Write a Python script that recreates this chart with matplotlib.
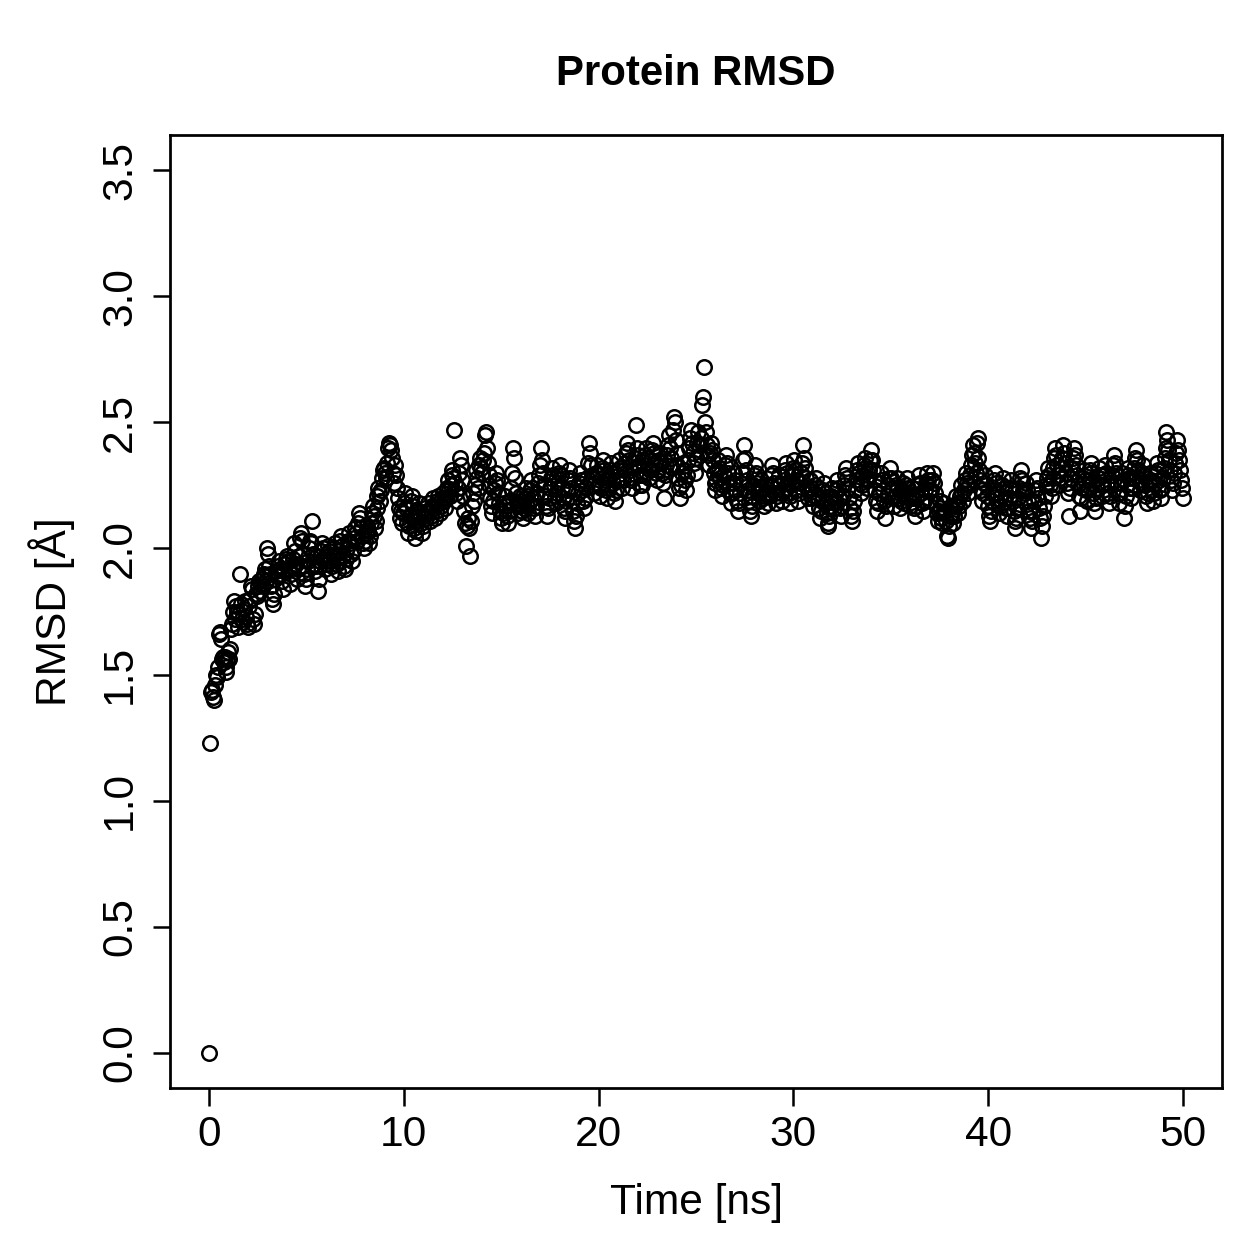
import numpy as np
import matplotlib
matplotlib.use("Agg")
import matplotlib.pyplot as plt

plt.rcParams['font.family'] = ['Liberation Sans', 'DejaVu Sans']

# RMSD per frame, one row per ns (20 frames of 0.05 ns each)
rmsd = [
    0.00, 1.23, 1.43, 1.44, 1.41, 1.40, 1.46, 1.50, 1.49, 1.53, 1.66, 1.67, 1.64, 1.56, 1.57, 1.55, 1.57, 1.53, 1.51, 1.56,
    1.59, 1.56, 1.60, 1.68, 1.70, 1.75, 1.79, 1.72, 1.77, 1.75, 1.69, 1.74, 1.90, 1.78, 1.72, 1.71, 1.76, 1.79, 1.73, 1.70,
    1.69, 1.77, 1.80, 1.85, 1.84, 1.72, 1.70, 1.74, 1.82, 1.81, 1.85, 1.87, 1.83, 1.86, 1.88, 1.85, 1.90, 1.89, 1.92, 1.87,
    2.00, 1.98, 1.93, 1.90, 1.85, 1.80, 1.78, 1.82, 1.88, 1.91, 1.89, 1.93, 1.95, 1.92, 1.90, 1.87, 1.84, 1.91, 1.94, 1.96,
    1.97, 1.95, 1.92, 1.86, 1.90, 1.93, 1.96, 2.02, 1.99, 1.94, 1.88, 1.92, 1.97, 2.04, 2.06, 2.03, 1.98, 1.93, 1.90, 1.85,
    1.88, 1.92, 1.95, 2.00, 2.03, 2.02, 2.11, 1.98, 1.94, 1.91, 1.93, 1.97, 1.83, 1.88, 1.95, 1.99, 2.02, 2.00, 1.96, 1.92,
    1.94, 1.98, 2.01, 1.99, 1.95, 1.90, 1.93, 1.97, 2.00, 2.02, 1.98, 1.94, 1.91, 1.95, 1.99, 2.03, 2.05, 2.01, 1.97, 1.93,
    1.92, 1.96, 2.00, 2.03, 2.06, 2.02, 1.98, 1.95, 1.99, 2.04, 2.08, 2.06, 2.03, 2.10, 2.14, 2.12, 2.08, 2.05, 2.02, 2.00,
    2.03, 2.06, 2.09, 2.07, 2.02, 2.05, 2.10, 2.14, 2.17, 2.13, 2.08, 2.11, 2.16, 2.21, 2.24, 2.22, 2.19, 2.23, 2.28, 2.31,
    2.32, 2.30, 2.28, 2.34, 2.40, 2.42, 2.41, 2.39, 2.36, 2.30, 2.26, 2.33, 2.29, 2.24, 2.20, 2.16, 2.12, 2.15, 2.10, 2.14,
    2.18, 2.22, 2.16, 2.10, 2.06, 2.09, 2.13, 2.19, 2.21, 2.17, 2.12, 2.08, 2.04, 2.07, 2.11, 2.15, 2.18, 2.14, 2.10, 2.06,
    2.09, 2.13, 2.16, 2.12, 2.15, 2.18, 2.14, 2.11, 2.13, 2.17, 2.20, 2.16, 2.12, 2.15, 2.19, 2.21, 2.18, 2.14, 2.17, 2.20,
    2.22, 2.19, 2.16, 2.20, 2.24, 2.27, 2.23, 2.21, 2.25, 2.29, 2.31, 2.28, 2.47, 2.26, 2.22, 2.19, 2.24, 2.30, 2.36, 2.33,
    2.27, 2.21, 2.15, 2.10, 2.01, 2.09, 2.12, 2.08, 1.97, 2.11, 2.17, 2.22, 2.19, 2.25, 2.31, 2.28, 2.24, 2.33, 2.36, 2.32,
    2.30, 2.35, 2.38, 2.45, 2.46, 2.40, 2.34, 2.29, 2.25, 2.20, 2.17, 2.14, 2.19, 2.23, 2.26, 2.30, 2.27, 2.22, 2.18, 2.15,
    2.12, 2.10, 2.14, 2.18, 2.21, 2.17, 2.13, 2.10, 2.15, 2.19, 2.24, 2.30, 2.40, 2.36, 2.28, 2.22, 2.18, 2.14, 2.17, 2.21,
    2.19, 2.15, 2.12, 2.16, 2.20, 2.24, 2.21, 2.17, 2.14, 2.18, 2.23, 2.27, 2.24, 2.20, 2.16, 2.13, 2.17, 2.22, 2.26, 2.29,
    2.33, 2.40, 2.35, 2.30, 2.25, 2.21, 2.17, 2.13, 2.16, 2.20, 2.24, 2.28, 2.32, 2.29, 2.25, 2.21, 2.18, 2.22, 2.26, 2.30,
    2.33, 2.29, 2.24, 2.20, 2.16, 2.12, 2.15, 2.19, 2.23, 2.27, 2.31, 2.28, 2.24, 2.19, 2.15, 2.11, 2.08, 2.13, 2.18, 2.22,
    2.26, 2.30, 2.27, 2.23, 2.19, 2.16, 2.20, 2.24, 2.28, 2.34, 2.42, 2.38, 2.33, 2.29, 2.25, 2.22, 2.26, 2.30, 2.33, 2.29,
    2.25, 2.21, 2.24, 2.28, 2.32, 2.35, 2.31, 2.27, 2.23, 2.20, 2.24, 2.28, 2.31, 2.34, 2.30, 2.26, 2.22, 2.19, 2.23, 2.27,
    2.31, 2.35, 2.32, 2.28, 2.24, 2.27, 2.31, 2.34, 2.38, 2.42, 2.39, 2.35, 2.31, 2.27, 2.24, 2.28, 2.32, 2.36, 2.49, 2.40,
    2.37, 2.33, 2.29, 2.25, 2.21, 2.25, 2.29, 2.33, 2.37, 2.40, 2.36, 2.32, 2.28, 2.31, 2.35, 2.39, 2.42, 2.38, 2.34, 2.30,
    2.27, 2.31, 2.35, 2.38, 2.34, 2.30, 2.26, 2.20, 2.29, 2.33, 2.37, 2.41, 2.45, 2.40, 2.36, 2.32, 2.47, 2.52, 2.50, 2.43,
    2.38, 2.33, 2.28, 2.24, 2.20, 2.25, 2.30, 2.34, 2.31, 2.27, 2.23, 2.29, 2.35, 2.40, 2.44, 2.47, 2.42, 2.38, 2.34, 2.30,
    2.36, 2.42, 2.46, 2.41, 2.37, 2.44, 2.57, 2.60, 2.72, 2.50, 2.46, 2.41, 2.37, 2.33, 2.38, 2.42, 2.39, 2.35, 2.30, 2.26,
    2.23, 2.27, 2.31, 2.35, 2.32, 2.28, 2.24, 2.21, 2.25, 2.29, 2.33, 2.37, 2.34, 2.30, 2.26, 2.22, 2.18, 2.22, 2.26, 2.30,
    2.27, 2.23, 2.19, 2.15, 2.18, 2.22, 2.26, 2.30, 2.35, 2.41, 2.36, 2.31, 2.27, 2.23, 2.19, 2.15, 2.13, 2.17, 2.21, 2.25,
    2.29, 2.33, 2.30, 2.26, 2.22, 2.19, 2.23, 2.27, 2.24, 2.20, 2.17, 2.21, 2.25, 2.22, 2.18, 2.21, 2.25, 2.29, 2.33, 2.30,
    2.26, 2.22, 2.18, 2.21, 2.25, 2.29, 2.26, 2.22, 2.19, 2.23, 2.27, 2.31, 2.34, 2.30, 2.26, 2.22, 2.18, 2.21, 2.25, 2.29,
    2.32, 2.35, 2.31, 2.27, 2.23, 2.19, 2.22, 2.26, 2.30, 2.34, 2.41, 2.36, 2.32, 2.28, 2.24, 2.20, 2.23, 2.27, 2.24, 2.20,
    2.17, 2.21, 2.25, 2.28, 2.24, 2.20, 2.16, 2.12, 2.15, 2.19, 2.23, 2.26, 2.22, 2.18, 2.14, 2.10, 2.09, 2.13, 2.17, 2.21,
    2.24, 2.20, 2.16, 2.19, 2.23, 2.27, 2.24, 2.20, 2.16, 2.13, 2.17, 2.21, 2.25, 2.29, 2.32, 2.28, 2.24, 2.20, 2.16, 2.13,
    2.11, 2.15, 2.19, 2.23, 2.27, 2.31, 2.34, 2.30, 2.26, 2.22, 2.25, 2.29, 2.33, 2.36, 2.32, 2.28, 2.24, 2.27, 2.31, 2.35,
    2.39, 2.35, 2.31, 2.27, 2.23, 2.19, 2.15, 2.18, 2.22, 2.26, 2.30, 2.27, 2.23, 2.19, 2.12, 2.17, 2.21, 2.25, 2.28, 2.32,
    2.28, 2.24, 2.20, 2.17, 2.21, 2.25, 2.28, 2.24, 2.20, 2.16, 2.19, 2.23, 2.26, 2.22, 2.18, 2.21, 2.25, 2.28, 2.24, 2.20,
    2.17, 2.21, 2.24, 2.20, 2.16, 2.13, 2.17, 2.21, 2.25, 2.29, 2.26, 2.22, 2.18, 2.15, 2.19, 2.23, 2.26, 2.30, 2.27, 2.23,
    2.19, 2.23, 2.27, 2.30, 2.26, 2.22, 2.18, 2.14, 2.11, 2.15, 2.19, 2.16, 2.12, 2.10, 2.14, 2.18, 2.15, 2.11, 2.05, 2.04,
    2.09, 2.13, 2.17, 2.14, 2.10, 2.13, 2.17, 2.21, 2.18, 2.14, 2.17, 2.21, 2.25, 2.22, 2.19, 2.23, 2.27, 2.30, 2.26, 2.22,
    2.25, 2.29, 2.33, 2.37, 2.41, 2.38, 2.34, 2.30, 2.42, 2.44, 2.36, 2.31, 2.27, 2.23, 2.19, 2.22, 2.26, 2.29, 2.25, 2.21,
    2.17, 2.13, 2.11, 2.15, 2.19, 2.23, 2.27, 2.30, 2.26, 2.22, 2.18, 2.14, 2.17, 2.21, 2.25, 2.28, 2.24, 2.20, 2.16, 2.13,
    2.16, 2.20, 2.24, 2.27, 2.23, 2.19, 2.15, 2.11, 2.08, 2.12, 2.16, 2.20, 2.24, 2.28, 2.31, 2.27, 2.23, 2.19, 2.22, 2.26,
    2.23, 2.19, 2.15, 2.12, 2.08, 2.11, 2.15, 2.19, 2.23, 2.27, 2.24, 2.20, 2.16, 2.12, 2.04, 2.09, 2.13, 2.17, 2.21, 2.25,
    2.28, 2.32, 2.29, 2.25, 2.21, 2.24, 2.28, 2.32, 2.36, 2.40, 2.37, 2.33, 2.29, 2.25, 2.28, 2.32, 2.36, 2.41, 2.38, 2.34,
    2.30, 2.26, 2.22, 2.13, 2.24, 2.28, 2.32, 2.36, 2.40, 2.37, 2.33, 2.29, 2.25, 2.21, 2.15, 2.20, 2.24, 2.28, 2.31, 2.27,
    2.23, 2.19, 2.23, 2.27, 2.31, 2.34, 2.30, 2.26, 2.22, 2.18, 2.15, 2.20, 2.24, 2.28, 2.32, 2.29, 2.25, 2.21, 2.25, 2.29,
    2.33, 2.30, 2.26, 2.22, 2.18, 2.21, 2.25, 2.29, 2.33, 2.37, 2.34, 2.30, 2.26, 2.22, 2.18, 2.22, 2.26, 2.30, 2.27, 2.12,
    2.17, 2.21, 2.25, 2.29, 2.32, 2.28, 2.24, 2.20, 2.24, 2.28, 2.32, 2.36, 2.39, 2.35, 2.31, 2.27, 2.23, 2.26, 2.30, 2.33,
    2.29, 2.25, 2.21, 2.18, 2.22, 2.26, 2.30, 2.27, 2.23, 2.19, 2.22, 2.26, 2.30, 2.34, 2.31, 2.27, 2.23, 2.20, 2.24, 2.28,
    2.32, 2.36, 2.40, 2.46, 2.43, 2.39, 2.35, 2.31, 2.27, 2.23, 2.26, 2.30, 2.34, 2.38, 2.43, 2.39, 2.35, 2.31, 2.27, 2.24,
    2.20,
]
frame_step_ns = 0.05
time_ns = np.arange(len(rmsd)) * frame_step_ns

x_ticks = [0, 10, 20, 30, 40, 50]
y_ticks = [0.0, 0.5, 1.0, 1.5, 2.0, 2.5, 3.0, 3.5]

fig = plt.figure(figsize=(1259 / 180, 1259 / 180), dpi=180)
ax = fig.add_axes([170 / 1259, 171 / 1259, 1052 / 1259, 953 / 1259])

ax.plot(time_ns, rmsd, linestyle='none', marker='o', markersize=5.8,
        markerfacecolor='none', markeredgecolor='black', markeredgewidth=1.0)

# R-style axes: 4% padding, outward ticks
ax.set_xlim(-2, 52)
ax.set_ylim(-0.14, 3.64)
ax.set_xticks(x_ticks)
ax.set_xticklabels([str(t) for t in x_ticks])
ax.set_yticks(y_ticks)
ax.set_yticklabels(['%.1f' % v for v in y_ticks], rotation=90, va='center')
ax.tick_params(direction='out', length=7, width=1.0, labelsize=17)
ax.tick_params(axis='x', pad=4)
ax.tick_params(axis='y', pad=5)
for sp in ax.spines.values():
    sp.set_linewidth(1.1)

ax.set_xlabel('Time [ns]', fontsize=17, labelpad=11)
ax.set_ylabel('RMSD [Å]', fontsize=17, labelpad=10)
ax.set_title('Protein RMSD', fontsize=16.8, fontweight='bold', pad=20)

fig.savefig('out.png', dpi=180)
